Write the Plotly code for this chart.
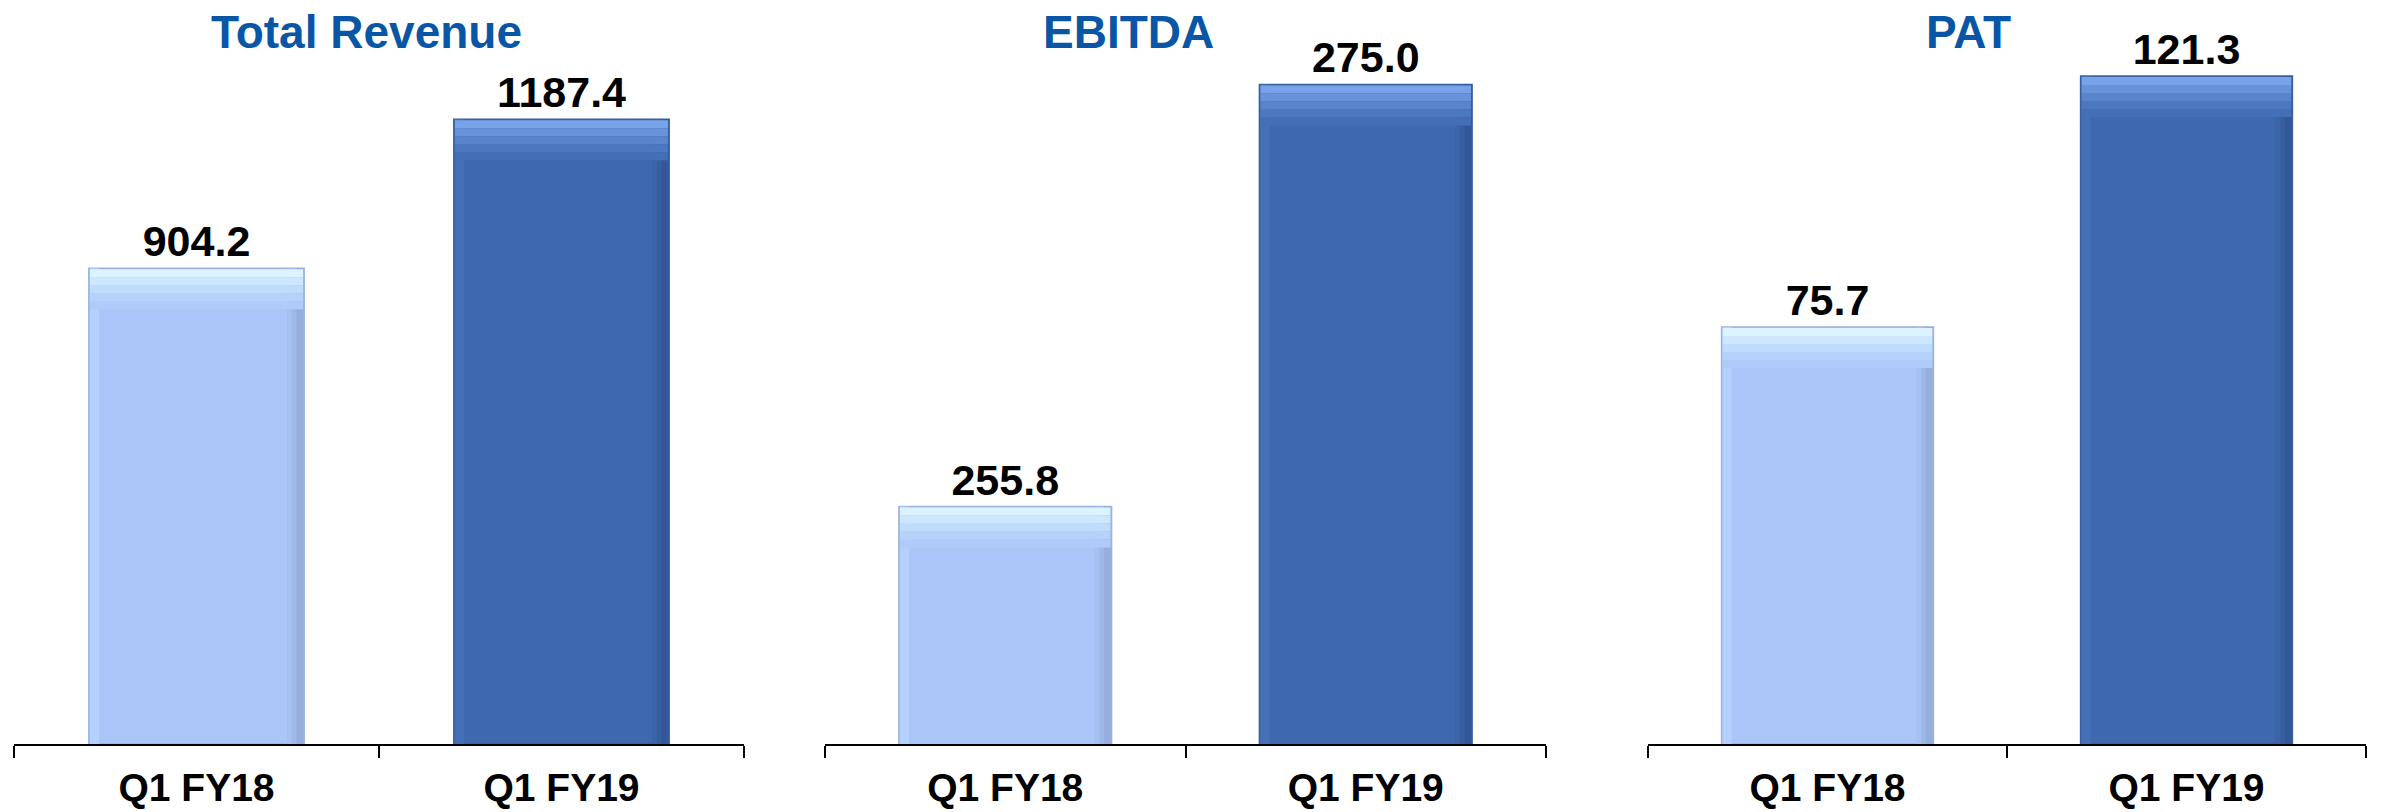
import plotly.graph_objects as go

categories = ["Q1 FY18", "Q1 FY19"]
panel_titles = ["Total Revenue", "EBITDA", "PAT"]
revenue = [904.2, 1187.4]
ebitda = [255.8, 275.0]
pat = [75.7, 121.3]
series = [revenue, ebitda, pat]

# style: [light bar, dark bar]
bar_colors = ["#AAC6F8", "#3E69B0"]
bar_lines = ["#9CB3DC", "#3A609F"]
# top bevel gradient, from top edge downwards
top_grad = [
    ["#DCF4FF", "#78A3E8"],
    ["#CDE8FE", "#6892DA"],
    ["#C0DCFD", "#5A85CC"],
    ["#B6D2FB", "#4C78BF"],
    ["#AFCBF9", "#446FB6"],
]
right_grad = [  # from inner to outer edge
    ["#A5C0F2", "#3B64A9"],
    ["#9EB8E8", "#375EA1"],
    ["#96AEDD", "#32589A"],
]
left_edge = ["#B4D0FC", "#4370B7"]
title_color = "#0A56A6"
FONT = "Liberation Sans, Arial, sans-serif"

W, H = 2381, 812
PLOT_PX = 744
x_domains = [[14 / W, 744 / W], [825 / W, 1546 / W], [1648 / W, 2366 / W]]
y_domain = [(H - PLOT_PX) / H, 1.0]
y_ranges = [[0, 1414], [245.0, 278.84], [0, 135.1]]
title_x = [366 / W, 1128 / W, 1968 / W]
BW = 0.59
BAND_PX = 8

fig = go.Figure()
for i, vals in enumerate(series):
    xa = "x" if i == 0 else f"x{i+1}"
    ya = "y" if i == 0 else f"y{i+1}"
    upp = (y_ranges[i][1] - y_ranges[i][0]) / PLOT_PX  # data units per pixel
    common = dict(xaxis=xa, yaxis=ya, showlegend=False, hoverinfo="skip")
    fig.add_trace(go.Bar(
        x=categories, y=vals, width=BW,
        marker=dict(color=bar_colors, line=dict(color=bar_lines, width=1.5)),
        text=[f"{v:.1f}" for v in vals], textposition="outside",
        textfont=dict(family=FONT, size=43, color="black", weight="bold"),
        cliponaxis=False, **common,
    ))
    # left light strip
    fig.add_trace(go.Bar(
        x=categories, y=vals, width=0.025, offset=-BW / 2 + 0.003,
        marker=dict(color=left_edge, line=dict(width=0)), **common,
    ))
    # right shadow gradient
    for k, col in enumerate(right_grad):
        w = 0.045 - 0.013 * k
        fig.add_trace(go.Bar(
            x=categories, y=vals, width=w, offset=BW / 2 - w - 0.002,
            marker=dict(color=col, line=dict(width=0)), **common,
        ))
    # top highlight gradient
    for k, col in enumerate(top_grad):
        fig.add_trace(go.Bar(
            x=categories, y=[BAND_PX * upp] * len(vals),
            base=[v - (k + 1) * BAND_PX * upp - 1 * upp for v in vals],
            width=BW - 0.006, marker=dict(color=col, line=dict(width=0)), **common,
        ))
    sfx = "" if i == 0 else str(i + 1)
    fig.layout["xaxis" + sfx] = dict(
        domain=x_domains[i], anchor=ya, type="category", range=[-0.5, 1.5],
        showline=True, linecolor="black", linewidth=2,
        ticks="outside", tickson="boundaries", ticklen=12, tickwidth=2, tickcolor="black",
        tickfont=dict(family=FONT, size=39, color="black", weight="bold"),
        ticklabelstandoff=8, showgrid=False, zeroline=False,
    )
    fig.layout["yaxis" + sfx] = dict(
        domain=y_domain, anchor=xa, range=y_ranges[i], visible=False,
        showgrid=False, zeroline=False,
    )
    fig.add_annotation(
        xref="paper", yref="paper", x=title_x[i], y=(H - 32) / H,
        xanchor="center", yanchor="middle", showarrow=False,
        text=panel_titles[i],
        font=dict(family=FONT, size=46, color=title_color, weight="bold"),
    )

fig.update_layout(
    width=W, height=H, margin=dict(l=0, r=0, t=0, b=0),
    paper_bgcolor="white", plot_bgcolor="white", barmode="overlay",
)
fig.write_html(
    "out.html",
    config={"displayModeBar": False},
    post_script="document.body.style.margin='0';document.body.style.overflow='hidden';",
)
